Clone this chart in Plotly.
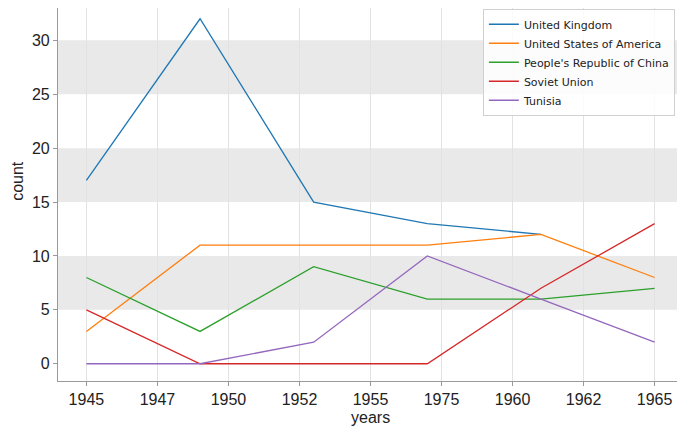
import plotly.graph_objects as go

# data
years = [1945, 1949, 1953, 1957, 1961, 1965]
uk = [17, 32, 15, 13, 12, None]
usa = [3, 11, 11, 11, 12, 8]
china = [8, 3, 9, 6, 6, 7]
soviet = [5, 0, 0, 0, 7, 13]
tunisia = [0, 0, 2, 10, 6, 2]

series = [
    ("United Kingdom", uk, "#1f77b4"),
    ("United States of America", usa, "#ff7f0e"),
    ("People's Republic of China", china, "#2ca02c"),
    ("Soviet Union", soviet, "#d62728"),
    ("Tunisia", tunisia, "#9467bd"),
]

tick_vals = [1945, 1947.5, 1950, 1952.5, 1955, 1957.5, 1960, 1962.5, 1965]
tick_text = ["1945", "1947", "1950", "1952", "1955", "1975", "1960", "1962", "1965"]
bands = [(5, 10), (15, 20), (25, 30)]

fig = go.Figure()
for name, vals, col in series:
    fig.add_trace(go.Scatter(x=years, y=vals, name=name, mode="lines",
                             line=dict(color=col, width=1.3)))

# grey horizontal bands
for lo, hi in bands:
    fig.add_shape(type="rect", xref="paper", yref="y", x0=0, x1=1, y0=lo, y1=hi,
                  fillcolor="#e9e9e9", line_width=0, layer="below")

axis_font = dict(family="Liberation Sans, Arial, sans-serif", size=16, color="#222")

# axis titles as annotations so the plot area stays put
fig.add_annotation(text="years", xref="paper", yref="paper", x=0.5, y=-0.099,
                   xanchor="center", yanchor="middle", showarrow=False, font=axis_font)
fig.add_annotation(text="count", xref="paper", yref="paper", x=-0.066, y=0.536,
                   xanchor="center", yanchor="middle", textangle=-90, showarrow=False,
                   font=axis_font)

# page body has an 8px margin, so the figure is sized to fit the window
fig.update_layout(
    width=677, height=421,
    margin=dict(l=50, r=2, t=0, b=48),
    plot_bgcolor="white", paper_bgcolor="white",
    showlegend=True,
    legend=dict(x=0.987, y=0.998, xanchor="right", yanchor="top",
                bgcolor="rgba(255,255,255,0.85)", bordercolor="#d0d0d0", borderwidth=1,
                font=dict(family="DejaVu Sans, sans-serif", size=11, color="#222"),
                tracegroupgap=0, itemwidth=30),
    xaxis=dict(range=[1944, 1966], tickmode="array", tickvals=tick_vals, ticktext=tick_text,
               showgrid=True, gridcolor="#e2e2e2", gridwidth=1.3, zeroline=False,
               showline=True, linecolor="#9a9a9a", linewidth=1.2, mirror=True,
               ticks="outside", ticklen=4, tickcolor="#9a9a9a", automargin=False,
               tickfont=axis_font),
    yaxis=dict(range=[-1.6, 33.0], tickvals=[0, 5, 10, 15, 20, 25, 30],
               showgrid=False, zeroline=False,
               showline=True, linecolor="#9a9a9a", linewidth=1.2, mirror=True,
               ticks="outside", ticklen=4, tickcolor="#9a9a9a", automargin=False,
               tickfont=axis_font),
)

fig.write_html("out.html")
